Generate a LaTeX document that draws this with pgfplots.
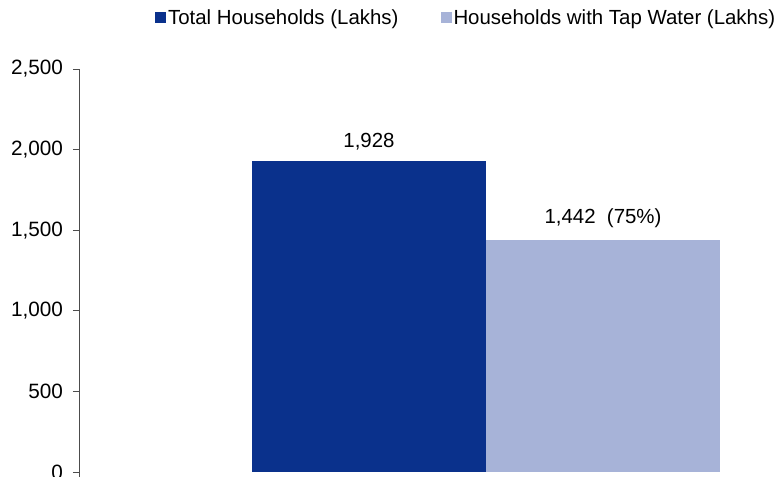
\documentclass[border=0pt]{standalone}
\usepackage{pgfplots}
\pgfplotsset{compat=1.18}
\usepackage{fontspec}
\setmainfont{Liberation Sans}
\definecolor{darkb}{HTML}{0A318C}
\definecolor{lightb}{HTML}{A7B3D8}
\begin{document}
\begin{tikzpicture}
\begin{axis}[
  scale only axis,
  width=700bp, height=403bp,
  at={(0,0)}, anchor=south west,
  xmin=79, xmax=779,
  ymin=0, ymax=2500,
  axis y line=left,
  axis x line=none,
  y axis line style={-, draw=black!70, line width=0.8pt, shorten <=-5bp},
  ytick={0,500,1000,1500,2000,2500},
  tick align=outside,
  major tick length=6bp,
  ytick style={draw=black!70, line width=0.8pt},
  yticklabel style={font=\fontsize{20.8}{24}\selectfont, xshift=-6.5bp},
  /pgf/number format/assume math mode=true,
  /pgf/number format/1000 sep={,},
  clip=false,
  bar width=234,
  legend style={at={(0.553,1.127)}, anchor=center, draw=none, fill=none,
    font=\fontsize{20.5}{24}\selectfont, legend columns=2,
    /tikz/every even column/.append style={column sep=40bp},
    legend cell align=left},
  legend image code/.code={\fill[#1] (0bp,-5.5bp) rectangle (11bp,5.5bp);},
  every node near coord/.append style={font=\fontsize{20.5}{24}\selectfont, text=black, yshift=8bp},
]
\addplot[ybar, bar shift=0pt, fill=darkb, draw=none,
  nodes near coords={\pgfmathprintnumber{\pgfplotspointmeta}}] coordinates {(369,1928)};
\addlegendentry{Total Households (Lakhs)}
\addplot[ybar, bar shift=0pt, fill=lightb, draw=none,
  nodes near coords={\pgfmathprintnumber{\pgfplotspointmeta}\ \ (75\%)}] coordinates {(603,1442)};
\addlegendentry{Households with Tap Water (Lakhs)}
\end{axis}
\pgfresetboundingbox
\path[use as bounding box] (-79bp,-5bp) rectangle (700bp,472bp);
\end{tikzpicture}
\end{document}
